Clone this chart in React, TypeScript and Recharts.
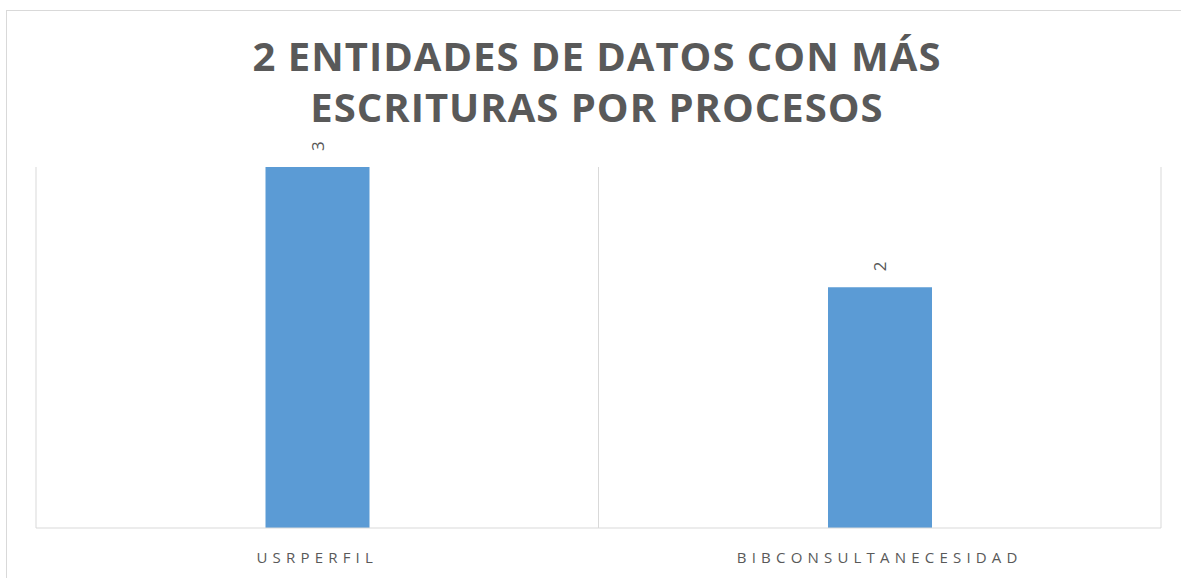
import { BarChart, Bar, XAxis, YAxis, CartesianGrid, LabelList } from 'recharts';

const entities = ['USRPERFIL', 'BIBCONSULTANECESIDAD'];
const writes = [3, 2];
const titleLines = ['2 ENTIDADES DE DATOS CON MÁS', 'ESCRITURAS POR PROCESOS'];

const data = entities.map((name, i) => ({ name, writes: writes[i] }));

const FONT = '"Open Sans", "Liberation Sans", sans-serif';

function CategoryTick(props: any) {
    const { x, y, payload } = props;
    return (
        <text x={x} y={y + 35} textAnchor="middle" fill="#595959" fontFamily={FONT} fontSize={15} style={{ letterSpacing: 5.2 }}>
            {payload.value}
        </text>
    );
}

function RotatedLabel(props: any) {
    const { x, y, width, value } = props;
    const cx = x + width / 2;
    const cy = y - 21;
    return (
        <text x={cx} y={cy} textAnchor="middle" dominantBaseline="central" fill="#595959" fontFamily={FONT} fontSize={17}
            transform={`rotate(-90 ${cx} ${cy})`}>
            {value}
        </text>
    );
}

export default function App() {
    return (
        <div style={{ position: 'absolute', left: 0, top: 0, width: 1181, height: 578, background: '#fff', overflow: 'hidden' }}>
            <div style={{ position: 'absolute', left: 6, top: 10, width: 1175, height: 568, borderLeft: '1px solid #d9d9d9', borderTop: '1px solid #d9d9d9', boxSizing: 'border-box' }} />
            <div style={{ position: 'absolute', left: 0, top: 30, width: 1194, textAlign: 'center', fontFamily: FONT, fontWeight: 700, fontSize: 40, lineHeight: '51px', color: '#595959', letterSpacing: 1 }}>
                {titleLines.map((t) => <div key={t}>{t}</div>)}
            </div>
            <div style={{ position: 'absolute', left: 0, top: 0 }}>
                <BarChart width={1181} height={578} data={data} margin={{ top: 167, right: 20, bottom: 0, left: 36 }} barCategoryGap="40.8%">
                    <CartesianGrid horizontal={false} stroke="#d9d9d9"
                        verticalCoordinatesGenerator={({ offset }: any) => [offset.left, offset.left + offset.width / 2, offset.left + offset.width]} />
                    <XAxis dataKey="name" height={50} tickLine={false} tickSize={0} tickMargin={0} axisLine={{ stroke: '#d9d9d9' }} tick={CategoryTick} interval={0} />
                    <YAxis hide domain={[0, 3]} />
                    <Bar dataKey="writes" fill="#5b9bd5" isAnimationActive={false}>
                        <LabelList dataKey="writes" content={RotatedLabel} />
                    </Bar>
                </BarChart>
            </div>
        </div>
    );
}
